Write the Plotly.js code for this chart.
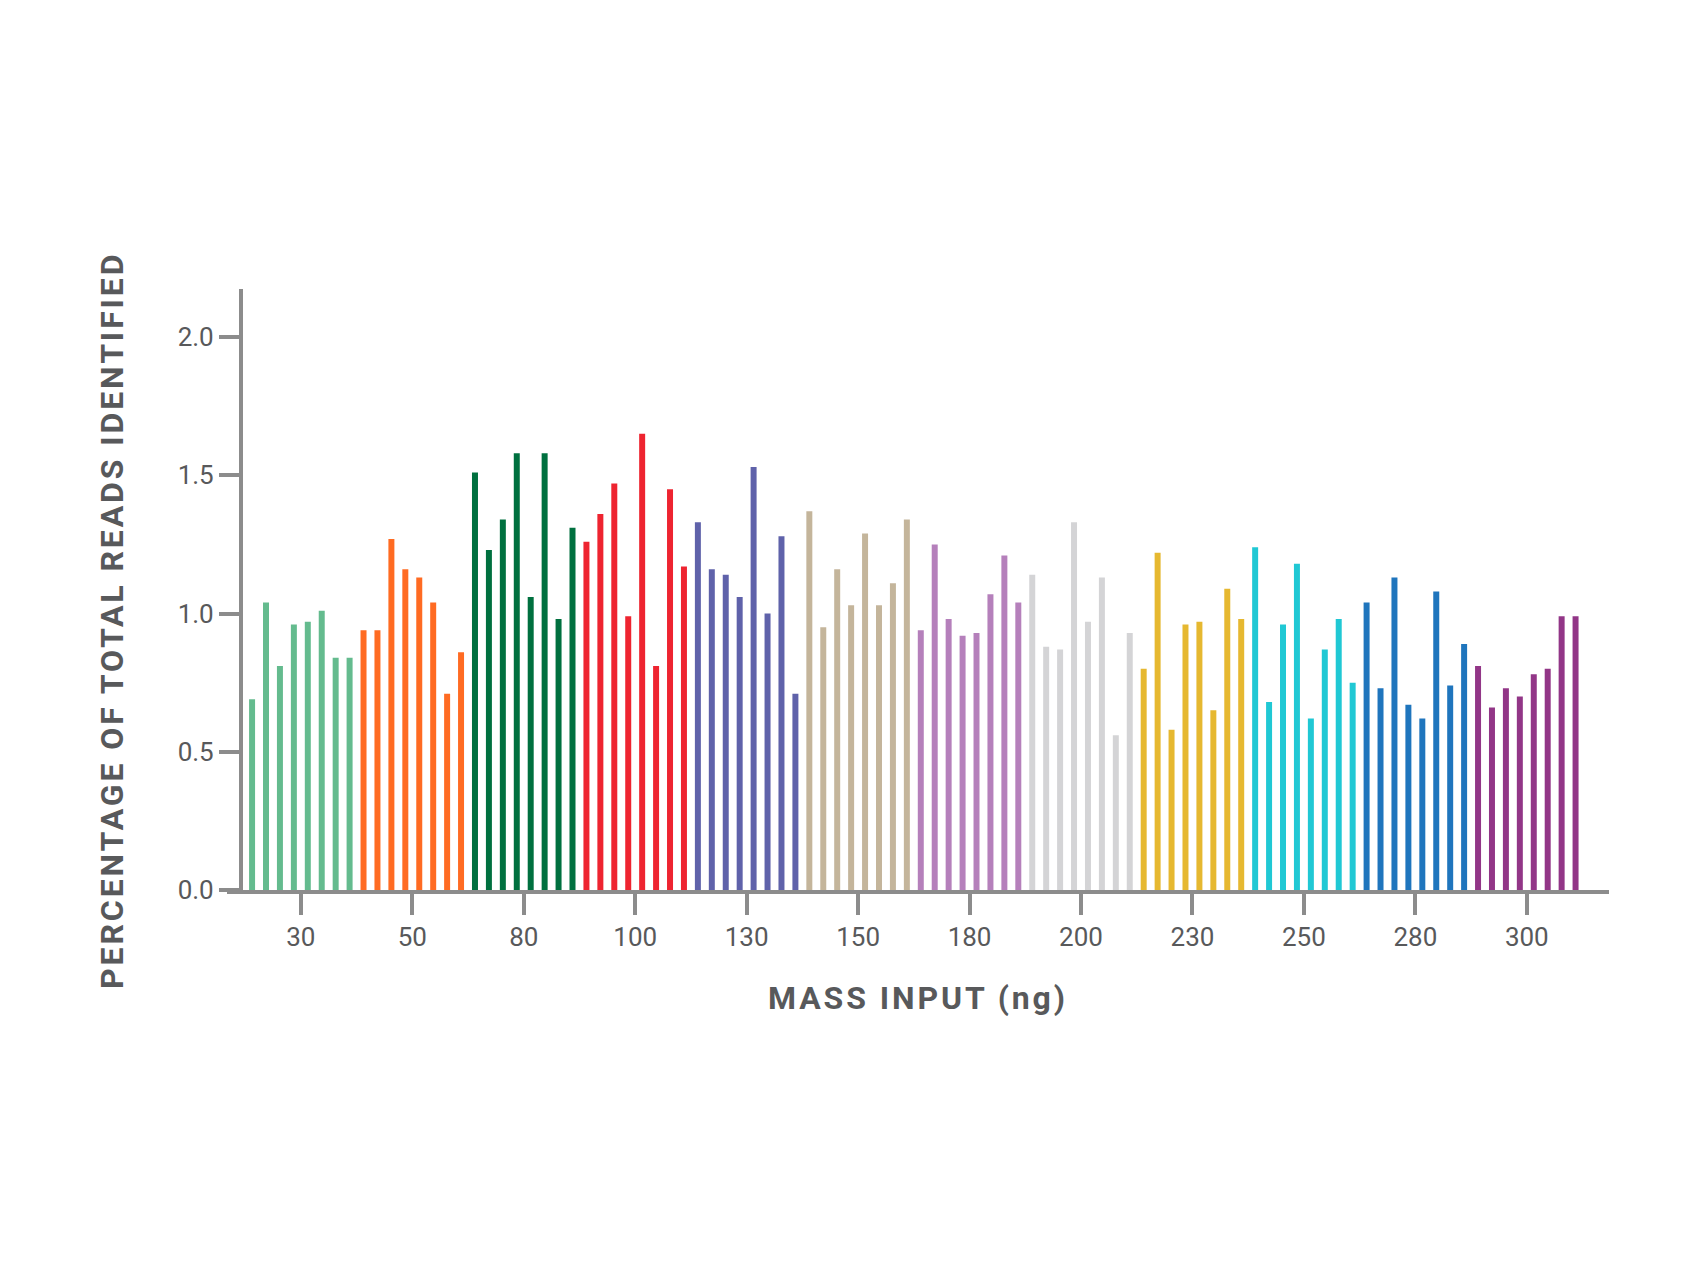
<!DOCTYPE html>
<html>
<head>
<meta charset="utf-8">
<script src="https://cdn.plot.ly/plotly-3.0.1.min.js"></script>
<style>
  html, body { margin: 0; padding: 0; background: #ffffff; }
  #chart { width: 1700px; height: 1275px; }
  .annotation-text { letter-spacing: 2.9px; }
</style>
</head>
<body>
<div id="chart"></div>
<script>
// ===== Data =====
const massLabels = ['30', '50', '80', '100', '130', '150', '180', '200', '230', '250', '280', '300'];

const groupColors = [
  '#64bb8e', '#ff6b22', '#00703f', '#ee2430', '#5f62aa', '#c4b59b',
  '#b580bb', '#d4d4d6', '#e6b830', '#20c8d4', '#1f75bd', '#923687',
];

// 8 replicates per mass input
const reads30  = [0.69, 1.04, 0.81, 0.96, 0.97, 1.01, 0.84, 0.84];
const reads50  = [0.94, 0.94, 1.27, 1.16, 1.13, 1.04, 0.71, 0.86];
const reads80  = [1.51, 1.23, 1.34, 1.58, 1.06, 1.58, 0.98, 1.31];
const reads100 = [1.26, 1.36, 1.47, 0.99, 1.65, 0.81, 1.45, 1.17];
const reads130 = [1.33, 1.16, 1.14, 1.06, 1.53, 1.00, 1.28, 0.71];
const reads150 = [1.37, 0.95, 1.16, 1.03, 1.29, 1.03, 1.11, 1.34];
const reads180 = [0.94, 1.25, 0.98, 0.92, 0.93, 1.07, 1.21, 1.04];
const reads200 = [1.14, 0.88, 0.87, 1.33, 0.97, 1.13, 0.56, 0.93];
const reads230 = [0.80, 1.22, 0.58, 0.96, 0.97, 0.65, 1.09, 0.98];
const reads250 = [1.24, 0.68, 0.96, 1.18, 0.62, 0.87, 0.98, 0.75];
const reads280 = [1.04, 0.73, 1.13, 0.67, 0.62, 1.08, 0.74, 0.89];
const reads300 = [0.81, 0.66, 0.73, 0.70, 0.78, 0.80, 0.99, 0.99];

const groups = [reads30, reads50, reads80, reads100, reads130, reads150,
                reads180, reads200, reads230, reads250, reads280, reads300];

// ===== Build trace =====
const x = [], y = [], colors = [], tickvals = [];
let idx = 0;
groups.forEach((vals, g) => {
  tickvals.push(idx + (vals.length - 1) / 2);
  vals.forEach(v => {
    x.push(idx++);
    y.push(v);
    colors.push(groupColors[g]);
  });
});

const AXIS_GRAY = '#8c8c8c';
const TEXT_GRAY = '#58595b';

const trace = {
  type: 'bar',
  x, y,
  width: 0.43,
  marker: { color: colors, line: { width: 0 } },
  hoverinfo: 'skip',
};

const layout = {
  width: 1700,
  height: 1275,
  paper_bgcolor: '#ffffff',
  plot_bgcolor: '#ffffff',
  margin: { l: 227, r: 91, t: 289, b: 385 },
  showlegend: false,
  font: { family: 'Roboto, sans-serif', color: TEXT_GRAY, size: 26 },
  xaxis: {
    range: [-1.8, 97.4],
    tickvals: tickvals,
    ticktext: massLabels,
    ticks: 'outside',
    ticklen: 21,
    tickwidth: 4,
    tickcolor: AXIS_GRAY,
    showline: true,
    linecolor: AXIS_GRAY,
    linewidth: 4,
    showgrid: false,
    zeroline: false,
    tickfont: { family: 'Roboto, sans-serif', size: 26, color: TEXT_GRAY },
    fixedrange: true,
  },
  yaxis: {
    range: [0, 2.174],
    anchor: 'free',
    position: 0.0101,
    tickvals: [0, 0.5, 1.0, 1.5, 2.0],
    tickformat: '.1f',
    ticks: 'outside',
    ticklen: 20,
    tickwidth: 4,
    tickcolor: AXIS_GRAY,
    showline: true,
    linecolor: AXIS_GRAY,
    linewidth: 4,
    showgrid: false,
    zeroline: false,
    tickfont: { family: 'Roboto, sans-serif', size: 26, color: TEXT_GRAY },
    fixedrange: true,
  },
  annotations: [
    {
      text: 'MASS INPUT (ng)',
      xref: 'paper', yref: 'paper',
      x: 0.5, y: -0.18,
      xanchor: 'center', yanchor: 'middle',
      showarrow: false,
      font: { family: 'Roboto, sans-serif', size: 32, weight: 'bold', color: TEXT_GRAY },
    },
    {
      text: 'PERCENTAGE OF TOTAL READS IDENTIFIED',
      xref: 'paper', yref: 'paper',
      x: -0.0832, y: 0.4476,
      xanchor: 'center', yanchor: 'middle',
      textangle: -90,
      showarrow: false,
      font: { family: 'Roboto, sans-serif', size: 32, weight: 'bold', color: TEXT_GRAY },
    },
  ],
};

Plotly.newPlot('chart', [trace], layout, { displayModeBar: false, staticPlot: true });
</script>
</body>
</html>
